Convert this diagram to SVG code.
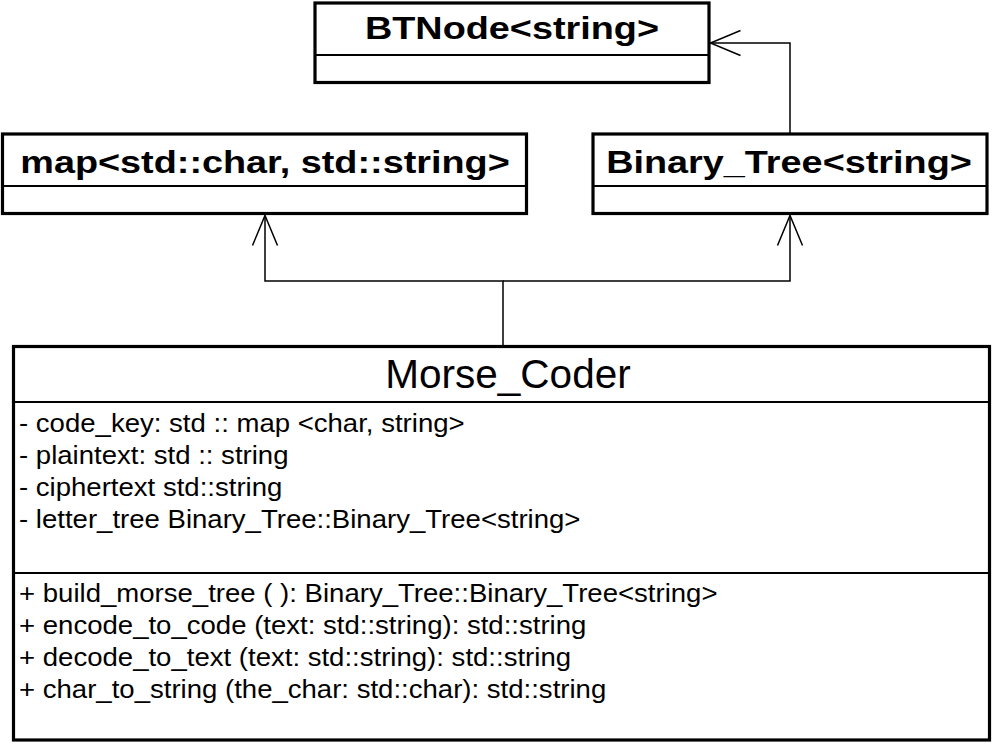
<svg xmlns="http://www.w3.org/2000/svg" width="993" height="744" viewBox="0 0 993 744">
<style>
.box{fill:#fff;stroke:#000;stroke-width:3.2}
.div{stroke:#000;stroke-width:2}
.hdr{font-family:"Liberation Sans",Arial,sans-serif;font-weight:bold;font-size:31px;fill:#000;text-anchor:middle}
.name{font-family:"Liberation Sans",Arial,sans-serif;font-size:40.5px;fill:#000;text-anchor:middle}
.mem{font-family:"Liberation Sans",Arial,sans-serif;font-size:26px;fill:#000}
.conn{fill:none;stroke:#000;stroke-width:1.5}
</style>
<defs>
<marker id="open" markerUnits="userSpaceOnUse" markerWidth="40" markerHeight="32" viewBox="-34 -16 36 32" refX="0" refY="0" orient="auto" overflow="visible">
<path d="M-30,-12.5 L0,0 L-30,12.5" fill="none" stroke="#000" stroke-width="1.5"/>
</marker>
</defs>
<rect width="993" height="744" fill="#fff"/>
<g id="connectors">
<polyline class="conn" points="503,346 503,281 265,281 265,215.5" marker-end="url(#open)"/>
<polyline class="conn" points="503,281 790,281 790,215.5" marker-end="url(#open)"/>
<polyline class="conn" points="790,134 790,43 710.5,43" marker-end="url(#open)"/>
</g>
<g id="btnode">
<rect class="box" x="315" y="3" width="394" height="79.5"/>
<line class="div" x1="315" y1="55" x2="709" y2="55"/>
<text class="hdr" transform="translate(512,39) scale(1.22,1)">BTNode&lt;string&gt;</text>
</g>
<g id="map">
<rect class="box" x="2.5" y="134" width="524" height="79.5"/>
<line class="div" x1="2.5" y1="186" x2="526.5" y2="186"/>
<text class="hdr" transform="translate(265,173) scale(1.22,1)">map&lt;std::char, std::string&gt;</text>
</g>
<g id="binary_tree">
<rect class="box" x="593" y="134" width="394" height="79.5"/>
<line class="div" x1="593" y1="186" x2="987" y2="186"/>
<text class="hdr" transform="translate(789,173) scale(1.22,1)">Binary_Tree&lt;string&gt;</text>
</g>
<g id="morse_coder">
<rect class="box" x="13.5" y="346.5" width="976" height="393.5"/>
<line class="div" x1="13.5" y1="402" x2="989.5" y2="402"/>
<line class="div" x1="13.5" y1="573" x2="989.5" y2="573"/>
<text class="name" x="508" y="388">Morse_Coder</text>
<text class="mem" transform="translate(19,432) scale(1.06,1)">- code_key: std :: map &lt;char, string&gt;</text>
<text class="mem" transform="translate(19,464) scale(1.06,1)">- plaintext: std :: string</text>
<text class="mem" transform="translate(19,496) scale(1.06,1)">- ciphertext std::string</text>
<text class="mem" transform="translate(19,528) scale(1.06,1)">- letter_tree Binary_Tree::Binary_Tree&lt;string&gt;</text>
<text class="mem" transform="translate(19,602) scale(1.06,1)">+ build_morse_tree ( ): Binary_Tree::Binary_Tree&lt;string&gt;</text>
<text class="mem" transform="translate(19,634) scale(1.06,1)">+ encode_to_code (text: std::string): std::string</text>
<text class="mem" transform="translate(19,666) scale(1.06,1)">+ decode_to_text (text: std::string): std::string</text>
<text class="mem" transform="translate(19,698) scale(1.06,1)">+ char_to_string (the_char: std::char): std::string</text>
</g>
</svg>
